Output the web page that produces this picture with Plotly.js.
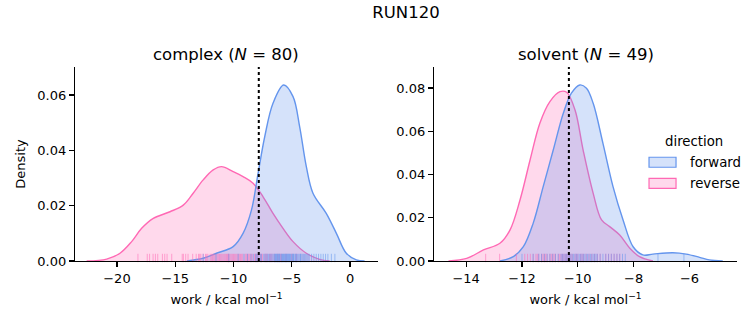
<!DOCTYPE html>
<html><head><meta charset="utf-8">
<script src="https://cdn.plot.ly/plotly-3.0.1.min.js"></script>
<style>html,body{margin:0;padding:0;background:#fff}</style>
</head><body><div id="chart" style="width:753px;height:325px"></div>
<script>
// ---- KDE curves ----
const complexFwdX = [-14.0,-12.6,-11.46,-10.03,-9.18,-8.46,-7.89,-7.32,-6.61,-5.69,-4.89,-4.32,-3.75,-3.18,-2.04,-1.17,-0.32,0.54,1.25];
const complexFwdY = [0,0.001,0.0028,0.0052,0.010,0.0184,0.0317,0.0449,0.057,0.0636,0.0594,0.0485,0.0341,0.0245,0.0172,0.010,0.0028,0.0004,0];
const complexRevX = [-22.6,-20.88,-19.74,-18.74,-17.88,-16.88,-15.45,-14.31,-13.46,-12.6,-11.74,-11.03,-10.03,-9.18,-8.32,-7.46,-6.61,-5.75,-4.89,-3.75,-2.61,-1.75];
const complexRevY = [0,0.0007,0.0028,0.007,0.0118,0.0154,0.0178,0.0202,0.0245,0.0293,0.0329,0.0341,0.0323,0.0305,0.0281,0.0232,0.0172,0.0118,0.007,0.0028,0.0006,0];
const solventFwdX = [-12.79,-12.31,-11.95,-11.6,-11.24,-10.88,-10.52,-10.23,-9.93,-9.69,-9.45,-9.1,-8.74,-8.38,-8.02,-7.67,-7.31,-6.6,-6.12,-5.64,-5.29,-4.81];
const solventFwdY = [0,0.002,0.0066,0.0174,0.0344,0.0513,0.0683,0.0776,0.0814,0.0799,0.0729,0.0544,0.0344,0.019,0.0066,0.0028,0.0032,0.0038,0.0032,0.0017,0.0005,0];
const solventRevX = [-14.63,-13.98,-13.38,-12.79,-12.43,-12.07,-11.71,-11.36,-11.0,-10.64,-10.4,-10.1,-9.81,-9.45,-9.15,-8.86,-8.5,-8.14,-7.79,-7.31];
const solventRevY = [0,0.0012,0.0051,0.0082,0.0143,0.0282,0.0467,0.0637,0.0737,0.0783,0.078,0.0698,0.0513,0.0313,0.019,0.0159,0.012,0.0059,0.002,0];

// ---- individual work values (rug) ----
const complexFwdWork = [-12.6,-11.5,-10.4,-9.6,-9.1,-8.8,-8.5,-8.3,-8.1,-7.9,-7.7,-7.6,-7.4,-7.3,-7.1,-7.0,-6.9,-6.8,-6.7,-6.6,-6.5,-6.4,-6.35,-6.3,-6.2,-6.1,-6.05,-6.0,-5.9,-5.85,-5.8,-5.75,-5.7,-5.65,-5.6,-5.5,-5.45,-5.4,-5.3,-5.25,-5.2,-5.1,-5.0,-4.9,-4.85,-4.8,-4.7,-4.6,-4.5,-4.4,-4.3,-4.2,-4.1,-4.0,-3.9,-3.8,-3.6,-3.5,-3.3,-3.1,-2.9,-2.7,-2.5,-2.3,-2.1,-1.9,-1.6,-1.3,-6.25,-5.55,-4.95,-7.2,-6.45,-5.35,-4.65,-8.0,-3.7,-5.15,-6.15,-4.25];
const complexRevWork = [-18.2,-17.4,-17.2,-16.9,-16.7,-16.5,-16.1,-15.9,-15.7,-15.3,-14.4,-14.3,-14.1,-13.9,-13.5,-13.2,-13.0,-12.8,-12.6,-12.4,-12.2,-12.0,-11.9,-11.7,-11.5,-11.4,-11.2,-11.1,-11.0,-10.8,-10.7,-10.5,-10.4,-10.3,-10.1,-10.0,-9.8,-9.7,-9.5,-9.4,-9.2,-9.0,-8.9,-8.7,-8.5,-8.4,-8.2,-8.0,-7.9,-7.7,-7.5,-7.3,-7.1,-6.9,-6.7,-6.5,-6.2,-5.9,-5.5,-5.0,-12.9,-12.3,-11.8,-11.3,-10.9,-10.6,-10.2,-9.9,-9.6,-9.3,-8.8,-8.6,-8.1,-7.6,-7.2,-6.8,-6.0,-4.6,-11.6,-10.45];
const solventFwdWork = [-12.0,-11.6,-11.4,-11.2,-11.1,-11.0,-10.9,-10.8,-10.7,-10.6,-10.5,-10.45,-10.4,-10.3,-10.25,-10.2,-10.15,-10.1,-10.05,-10.0,-9.95,-9.9,-9.85,-9.8,-9.75,-9.7,-9.65,-9.6,-9.55,-9.5,-9.4,-9.3,-9.2,-9.1,-9.0,-8.9,-8.8,-8.7,-8.6,-8.5,-8.4,-8.3,-9.45,-10.35,-9.35,-10.55,-11.3,-7.13,-6.2];
const solventRevWork = [-13.3,-12.8,-12.2,-11.9,-11.8,-11.7,-11.6,-11.5,-11.45,-11.4,-11.3,-11.2,-11.15,-11.1,-11.0,-10.95,-10.9,-10.85,-10.8,-10.7,-10.65,-10.6,-10.55,-10.5,-10.45,-10.4,-10.35,-10.3,-10.25,-10.2,-10.1,-10.05,-10.0,-9.9,-9.85,-9.8,-9.7,-9.6,-9.5,-9.4,-9.3,-9.2,-9.0,-8.9,-8.8,-8.7,-8.6,-8.5,-11.25];

const dottedX = [-7.83, -10.32];
const panelTitles = ['complex (<i>N</i> = 80)', 'solvent (<i>N</i> = 49)'];
const seriesNames = ['forward', 'reverse'];
const legendTitle = 'direction';
const xTicks1 = [-20,-15,-10,-5,0];
const xTicks2 = [-14,-12,-10,-8,-6];
const yTicks1 = [0,0.02,0.04,0.06];
const yTicks2 = [0,0.02,0.04,0.06,0.08];

const BLUE = '#6495ED', PINK = '#FF69B4';
const BLUEF = 'rgba(100,149,237,0.27)', PINKF = 'rgba(255,105,180,0.25)';
const FONT = 'DejaVu Sans';
const yR1 = [0, 0.0701], yR2 = [0, 0.0897];
const plotH = 194;

function kde(x, y, xa, ya, name, line, fill) {
  return {x: x, y: y, xaxis: xa, yaxis: ya, type: 'scatter', mode: 'lines', name: name,
    line: {color: line, width: 1.4, shape: 'spline', smoothing: 1}, fill: 'tozeroy', fillcolor: fill,
    showlegend: false, hoverinfo: 'skip'};
}
function rug(w, xa, ya, rng, color, name) {
  const yy = w.map(() => rng[1] * 3 / plotH);
  return {x: w, y: yy, xaxis: xa, yaxis: ya, type: 'scatter', mode: 'markers', showlegend: false, name: name,
    marker: {symbol: 'line-ns-open', size: 6, color: color, line: {color: color, width: 1}}, hoverinfo: 'skip', cliponaxis: false};
}

const data = [
  kde(complexRevX, complexRevY, 'x', 'y', seriesNames[1], PINK, PINKF),
  kde(complexFwdX, complexFwdY, 'x', 'y', seriesNames[0], BLUE, BLUEF),
  kde(solventRevX, solventRevY, 'x2', 'y2', seriesNames[1], PINK, PINKF),
  kde(solventFwdX, solventFwdY, 'x2', 'y2', seriesNames[0], BLUE, BLUEF),
  rug(complexRevWork, 'x', 'y', yR1, 'rgba(255,105,180,0.55)', seriesNames[1]),
  rug(complexFwdWork, 'x', 'y', yR1, 'rgba(100,149,237,0.55)', seriesNames[0]),
  rug(solventRevWork, 'x2', 'y2', yR2, 'rgba(255,105,180,0.55)', seriesNames[1]),
  rug(solventFwdWork, 'x2', 'y2', yR2, 'rgba(100,149,237,0.55)', seriesNames[0])
];

const axBase = {showline: true, linecolor: '#000', linewidth: 1.1, ticks: 'outside', ticklen: 5, tickwidth: 1.1,
  tickcolor: '#000', showgrid: false, zeroline: false, tickfont: {family: FONT, size: 13, color: '#000'}, automargin: false, fixedrange: true};
const xTitle = {text: 'work / kcal mol<sup>−1</sup>', font: {family: FONT, size: 13, color: '#000'}, standoff: 10};
const txtFont = {family: FONT, size: 13.3, color: '#000'};

// legend geometry (paper coordinates)
const legX0 = 0.8671, legX1 = 0.9079, legTextX = 0.926, legTitleX = 0.9358, legTitleY = 0.615;
const legRowY = [0.509, 0.400], legHalfH = 0.0258;
const legColors = [[BLUE, BLUEF], [PINK, PINKF]];

const shapes = [
  {type: 'line', xref: 'x', yref: 'y domain', x0: dottedX[0], x1: dottedX[0], y0: 0, y1: 1, line: {color: '#000', width: 2, dash: 'dot'}},
  {type: 'line', xref: 'x2', yref: 'y2 domain', x0: dottedX[1], x1: dottedX[1], y0: 0, y1: 1, line: {color: '#000', width: 2, dash: 'dot'}}
];
const annotations = [
  {text: panelTitles[0], xref: 'x domain', yref: 'y domain', x: 0.5, y: 1, yanchor: 'bottom', yshift: 1, showarrow: false, font: {family: FONT, size: 16.5, color: '#000'}},
  {text: panelTitles[1], xref: 'x2 domain', yref: 'y2 domain', x: 0.5, y: 1, yanchor: 'bottom', yshift: 1, showarrow: false, font: {family: FONT, size: 16.5, color: '#000'}},
  {text: legendTitle, xref: 'paper', yref: 'paper', x: legTitleX, y: legTitleY, xanchor: 'center', yanchor: 'middle', showarrow: false, font: txtFont}
];
seriesNames.forEach((nm, i) => {
  shapes.push({type: 'rect', xref: 'paper', yref: 'paper', x0: legX0, x1: legX1, y0: legRowY[i] - legHalfH, y1: legRowY[i] + legHalfH,
    fillcolor: legColors[i][1], line: {color: legColors[i][0], width: 1.2}});
  annotations.push({text: nm, xref: 'paper', yref: 'paper', x: legTextX, y: legRowY[i], xanchor: 'left', yanchor: 'middle', showarrow: false, font: txtFont});
});

const layout = {
  width: 753, height: 325, paper_bgcolor: '#fff', plot_bgcolor: '#fff',
  margin: {l: 75, r: 16, t: 67, b: 64},
  font: {family: FONT, color: '#000'},
  title: {text: 'RUN120', font: {family: FONT, size: 16.5, color: '#000'}, x: 0.5, xref: 'paper', y: 1 - 12/325, yref: 'container', yanchor: 'middle'},
  xaxis: Object.assign({}, axBase, {domain: [0, 0.4577], range: [-23.6, 2.4], tickvals: xTicks1, ticktext: xTicks1.map(v => v < 0 ? '−' + Math.abs(v) : String(v)), title: xTitle, anchor: 'y'}),
  yaxis: Object.assign({}, axBase, {domain: [0, 1], range: yR1, tickvals: yTicks1, ticktext: yTicks1.map(v => v.toFixed(2)), anchor: 'x',
    title: {text: 'Density', font: {family: FONT, size: 13, color: '#000'}, standoff: 8}}),
  xaxis2: Object.assign({}, axBase, {domain: [0.5423, 1], range: [-15.15, -4.3], tickvals: xTicks2, ticktext: xTicks2.map(v => '−' + Math.abs(v)), title: xTitle, anchor: 'y2'}),
  yaxis2: Object.assign({}, axBase, {domain: [0, 1], range: yR2, tickvals: yTicks2, ticktext: yTicks2.map(v => v.toFixed(2)), anchor: 'x2'}),
  shapes: shapes,
  annotations: annotations,
  showlegend: false
};
Plotly.newPlot('chart', data, layout, {staticPlot: true, displayModeBar: false});
</script>
</body></html>
